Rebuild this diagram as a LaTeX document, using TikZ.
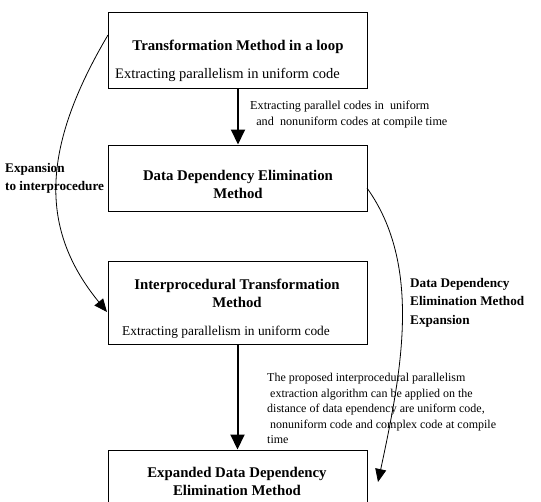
\documentclass[tikz,border=0pt]{standalone}
\usepackage{fontspec}
\setmainfont{Liberation Serif}
\usetikzlibrary{arrows.meta}

\tikzset{
  methodbox/.style={draw, line width=1pt, minimum width=259pt, inner sep=0pt},
  boxtitle/.style={font=\bfseries\fontsize{14.8}{18}\selectfont, align=center, inner sep=0pt},
  boxnote/.style={font=\fontsize{14.5}{16}\selectfont, inner sep=0pt},
  flownote/.style={font=\fontsize{12.2}{15.5}\selectfont, align=left, inner sep=0pt, anchor=north west},
  sidenote/.style={font=\bfseries\fontsize{13.2}{18.5}\selectfont, align=left, inner sep=0pt, anchor=north west},
  smallnote/.style={font=\fontsize{12}{15.5}\selectfont, align=left, inner sep=0pt, anchor=north west},
  flowarrow/.style={line width=2pt, -{Triangle[length=15pt,width=14pt]}},
  bendarrow/.style={line width=0.8pt, -{Triangle[length=13pt,width=11pt]}},
}

\begin{document}
\begin{tikzpicture}[x=1pt,y=-1pt]
      \useasboundingbox (0,0) rectangle (541,501);
      % the four method boxes
      \node[methodbox, minimum height=76pt] (loop) at (238,50) {};
      \node[methodbox, minimum height=66pt] (dde) at (237.5,178) {};
      \node[methodbox, minimum height=83pt] (inter) at (237.5,302.5) {};
      \node[methodbox, minimum height=70pt] (expanded) at (237.5,485) {};
      % texts in the boxes
      \node[boxtitle] (loop title) at (238,47) {Transformation Method in a loop};
      \node[boxnote] (loop note) at (227.5,75) {Extracting parallelism in uniform code};
      \node[boxtitle] (dde title) at (238,184.5) {Data Dependency Elimination\\Method};
      \node[boxtitle] (inter title) at (237,293) {Interprocedural Transformation\\Method};
      \node[boxnote, font=\fontsize{13.4}{16}\selectfont] (inter note) at (226,332) {Extracting parallelism in uniform code};
      \node[boxtitle] (expanded title) at (237,481) {Expanded Data Dependency\\Elimination Method};
      % straight flow
      \draw[flowarrow] (loop.south) -- (loop.south |- dde.north);
      \draw[flowarrow] (inter.south) -- (inter.south |- expanded.north);
      % curved expansions
      \coordinate (loop exit) at (108,35);
      \coordinate (inter entry) at (107,312);
      \coordinate (dde exit) at (367,188);
      \coordinate (expanded entry) at (378,482);
      \draw[bendarrow] (loop exit) .. controls (40,150) and (40,230) .. (inter entry);
      \draw[bendarrow] (dde exit) .. controls (422,265) and (402,370) .. (expanded entry);
      % labels
      \node[flownote] (flow label) at (250,101) {Extracting parallel codes in\ \ uniform\\\ \ and\ \ nonuniform codes at compile time};
      \node[sidenote] (left label) at (5,163) {Expansion\\to interprocedure};
      \node[sidenote] (right label) at (410,278) {Data Dependency\\Elimination Method\\Expansion};
      \node[smallnote] (algo label) at (267,373) {The proposed interprocedural parallelism\\\ extraction algorithm can be applied on the\\distance of data ependency are uniform code,\\\ nonuniform code and complex code at compile\\time};
\end{tikzpicture}
\end{document}
